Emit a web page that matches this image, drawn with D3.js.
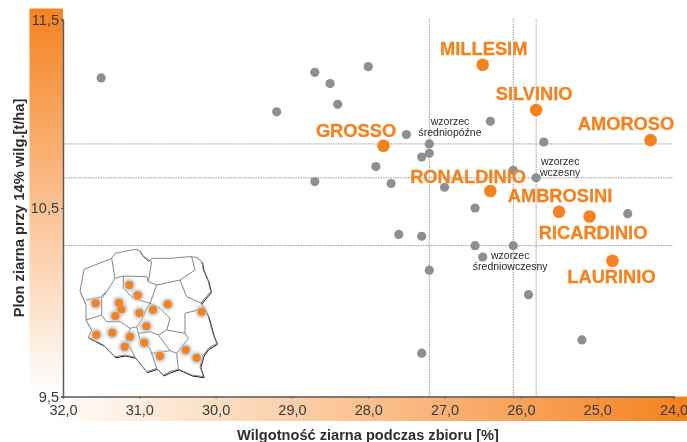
<!DOCTYPE html>
<html>
<head>
<meta charset="utf-8">
<script src="https://cdn.jsdelivr.net/npm/d3@7"></script>
<style>
  body { margin: 0; background: #fff; }
  svg { display: block; font-family: "Liberation Sans", Arial, sans-serif; filter: blur(0.35px); }
</style>
</head>
<body>
<div id="chart"></div>
<script>
// odmiany pozostale (szare punkty): wilgotnosc, plon
const otherMoisture = [31.5, 28.7, 28.5, 28.4, 29.2, 28.7, 28.0, 26.4, 27.5, 27.2, 27.2, 27.3, 27.9, 27.7, 27.0, 26.1, 25.8, 25.7, 26.6, 24.6, 27.6, 27.3, 26.6, 26.1, 26.5, 27.2, 25.9, 25.2, 27.3];
const otherYield = [11.19, 11.22, 11.16, 11.05, 11.01, 10.64, 11.25, 10.96, 10.89, 10.84, 10.79, 10.77, 10.72, 10.63, 10.61, 10.70, 10.66, 10.85, 10.50, 10.47, 10.36, 10.35, 10.30, 10.30, 10.24, 10.17, 10.04, 9.80, 9.73];

// odmiany wyroznione
const hybrids = ['MILLESIM', 'SILVINIO', 'AMOROSO', 'GROSSO', 'RONALDINIO', 'AMBROSINI', 'RICARDINIO', 'LAURINIO'];
const hybridMoisture = [26.5, 25.8, 24.3, 27.8, 26.4, 25.5, 25.1, 24.8];
const hybridYield = [11.26, 11.02, 10.86, 10.83, 10.59, 10.48, 10.455, 10.22];

const xTicks = [32, 31, 30, 29, 28, 27, 26, 25, 24];
const yTicks = [11.5, 10.5, 9.5];
const refMoisture = [27.2, 26.1, 25.8];
const refYield = [10.84, 10.66, 10.30];

// kontur i wojewodztwa w jednostkach mapki
const polandOutline = [[240,213],[252,148],[335,115],[345,100],[385,92],[405,88],[418,92],[430,110],[447,125],[455,115],[510,115],[570,110],[590,112],[605,125],[610,150],[625,185],[632,215],[610,240],[603,250],[615,270],[625,290],[640,345],[650,370],[625,385],[610,405],[600,440],[610,470],[575,465],[535,447],[510,455],[490,465],[470,445],[440,455],[420,430],[405,412],[375,405],[345,410],[310,375],[265,352],[275,330],[258,300],[258,255]];
const polandRegions = [
  [[258,240],[300,232],[320,215],[345,175],[335,115]],
  [[345,175],[370,168],[440,170],[445,185],[470,195],[540,180],[585,150],[575,110]],
  [[432,110],[455,125],[445,185]],
  [[540,180],[560,230],[605,250]],
  [[470,195],[450,250],[480,265],[510,295],[500,330],[555,340],[555,280],[612,265]],
  [[555,340],[565,355],[530,400],[535,447]],
  [[500,330],[475,345],[510,392],[530,400]],
  [[370,168],[370,205],[400,235],[450,250]],
  [[320,215],[305,235],[305,285],[320,305],[360,305],[390,325],[410,320],[415,340],[450,335],[475,345]],
  [[258,300],[305,285]],
  [[450,250],[440,265],[425,300],[410,320]],
  [[390,325],[380,360],[405,412]],
  [[415,340],[420,360],[450,385],[455,400],[470,445]],
  [[455,400],[510,392]]
];
const mapSitesX = [388, 413, 287, 357, 364, 346, 418, 459, 503, 605, 439, 289, 337, 390, 433, 374, 480, 557, 590];
const mapSitesY = [195, 226, 250, 248, 268, 288, 279, 269, 253, 275, 319, 344, 338, 350, 368, 380, 408, 390, 413];

const orange = '#f5821f';
const gray = '#8e8f92';

const svg = d3.select('#chart').append('svg').attr('width', 687).attr('height', 442);
const defs = svg.append('defs');

const gradLeft = defs.append('linearGradient').attr('id', 'gradLeft').attr('x1', 0).attr('x2', 0).attr('y1', 0).attr('y2', 1);
gradLeft.append('stop').attr('offset', 0).attr('stop-color', orange);
gradLeft.append('stop').attr('offset', 1).attr('stop-color', '#fff');
const gradBottom = defs.append('linearGradient').attr('id', 'gradBottom');
gradBottom.append('stop').attr('offset', 0).attr('stop-color', '#fff');
gradBottom.append('stop').attr('offset', 1).attr('stop-color', orange);
defs.append('filter').attr('id', 'soft').append('feGaussianBlur').attr('stdDeviation', 1.4);

const x = d3.scaleLinear().domain([32, 24]).range([63, 673.5]);
const y = d3.scaleLinear().domain([9.5, 11.5]).range([396.5, 19.5]);

// pasy gradientowe przy osiach
svg.append('rect').attr('x', 29.5).attr('y', 8.5).attr('width', 33.5).attr('height', 388).attr('fill', 'url(#gradLeft)');
svg.append('rect').attr('x', 48).attr('y', 396.5).attr('width', 639).attr('height', 24.5).attr('fill', 'url(#gradBottom)');

// linie wzorcow
svg.selectAll('.ref-v').data(refMoisture).join('line')
  .attr('class', 'ref-v')
  .attr('x1', d => x(d)).attr('x2', d => x(d))
  .attr('y1', 19).attr('y2', y(9.5))
  .attr('stroke', '#9a9a9a').attr('stroke-width', 1).attr('stroke-dasharray', '1.5 1');
svg.selectAll('.ref-h').data(refYield).join('line')
  .attr('class', 'ref-h')
  .attr('x1', x(32)).attr('x2', x(24))
  .attr('y1', d => y(d)).attr('y2', d => y(d))
  .attr('stroke', '#9a9a9a').attr('stroke-width', 1).attr('stroke-dasharray', '1.5 1');

// osie
const xAxis = svg.append('g').attr('transform', `translate(0,${y(9.5)})`)
  .call(d3.axisBottom(x).tickValues(xTicks).tickSize(2).tickPadding(6).tickFormat(d => d3.format('.1f')(d).replace('.', ',')));
const yAxis = svg.append('g').attr('transform', `translate(${x(32)},0)`)
  .call(d3.axisLeft(y).tickValues(yTicks).tickSize(2).tickPadding(2).tickFormat(d => d3.format('.1f')(d).replace('.', ',')));
[xAxis, yAxis].forEach(a => {
  a.selectAll('.domain').attr('stroke', '#5a5a5a').attr('stroke-width', 1.5);
  a.selectAll('.tick line').attr('stroke', '#5a5a5a');
  a.selectAll('text').attr('font-size', 14.5).attr('fill', '#3a3a3a').attr('font-family', '"Liberation Sans", Arial, sans-serif');
});

svg.append('text').attr('transform', 'translate(24,208) rotate(-90)')
  .attr('text-anchor', 'middle').attr('font-size', 14.7).attr('font-weight', 'bold').attr('fill', '#2f2f2f')
  .text('Plon ziarna przy 14% wilg.[t/ha]');
svg.append('text').attr('x', 368).attr('y', 440)
  .attr('text-anchor', 'middle').attr('font-size', 14.6).attr('font-weight', 'bold').attr('fill', '#2f2f2f')
  .text('Wilgotność ziarna podczas zbioru [%]');

// punkty szare
svg.selectAll('.other').data(otherMoisture).join('circle')
  .attr('class', 'other')
  .attr('cx', d => x(d))
  .attr('cy', (d, i) => y(otherYield[i]))
  .attr('r', 4.6)
  .attr('fill', gray);

// punkty pomaranczowe
svg.selectAll('.hybrid').data(hybrids).join('circle')
  .attr('class', 'hybrid')
  .attr('cx', (d, i) => x(hybridMoisture[i]))
  .attr('cy', (d, i) => y(hybridYield[i]))
  .attr('r', 6.3)
  .attr('fill', orange);

// etykiety odmian: przesuniecie wzgledem punktu
const labelDx = [1, -2, -24.6, -27.5, -22.3, 1, 3.5, -1];
const labelDy = [-9.7, -10, -10.6, -8.8, -8, -10, 22.8, 22];
svg.selectAll('.hybrid-label').data(hybrids).join('text')
  .attr('class', 'hybrid-label')
  .attr('x', (d, i) => x(hybridMoisture[i]) + labelDx[i])
  .attr('y', (d, i) => y(hybridYield[i]) + labelDy[i])
  .attr('text-anchor', 'middle')
  .attr('font-size', 18.3)
  .attr('font-weight', 'bold')
  .attr('fill', orange)
  .attr('stroke', orange)
  .attr('stroke-width', 0.3)
  .text(d => d);

// opisy wzorcow
const refNotes = [
  { lines: ['wzorzec', 'średniopóźne'], mx: 27.2, my: 10.84, dx: 20.7, dy: [-19, -8] },
  { lines: ['wzorzec', 'wczesny'], mx: 25.8, my: 10.66, dx: 24, dy: [-13, -2.2] },
  { lines: ['wzorzec', 'średniowczesny'], mx: 26.5, my: 10.24, dx: 27.5, dy: [2.3, 13] }
];
refNotes.forEach(n => n.lines.forEach((t, i) => {
  svg.append('text')
    .attr('x', x(n.mx) + n.dx).attr('y', y(n.my) + n.dy[i])
    .attr('text-anchor', 'middle').attr('font-size', 10.5).attr('fill', '#2a2a2a')
    .text(t);
}));

// mapka Polski
const mapX = d3.scaleLinear().domain([0, 1050]).range([0, 350]);
const mapY = d3.scaleLinear().domain([0, 666]).range([220, 442]);
const mapLine = d3.line().x(d => mapX(d[0])).y(d => mapY(d[1]));
const map = svg.append('g');
map.append('path').attr('d', mapLine(polandOutline) + 'Z')
  .attr('transform', 'translate(0.8,1)')
  .attr('fill', 'none').attr('stroke', '#111').attr('stroke-width', 1);
map.append('path').attr('d', mapLine(polandOutline) + 'Z')
  .attr('fill', '#fff').attr('stroke', '#777').attr('stroke-width', 0.9);
map.selectAll('.region').data(polandRegions).join('path')
  .attr('class', 'region')
  .attr('d', mapLine).attr('fill', 'none').attr('stroke', '#777').attr('stroke-width', 0.9);
map.selectAll('.halo').data(mapSitesX).join('circle')
  .attr('class', 'halo')
  .attr('cx', d => mapX(d)).attr('cy', (d, i) => mapY(mapSitesY[i]))
  .attr('r', 6).attr('fill', '#b9c4cf').attr('filter', 'url(#soft)');
map.selectAll('.site').data(mapSitesX).join('circle')
  .attr('class', 'site')
  .attr('cx', d => mapX(d)).attr('cy', (d, i) => mapY(mapSitesY[i]))
  .attr('r', 4).attr('fill', orange);
</script>
</body>
</html>
